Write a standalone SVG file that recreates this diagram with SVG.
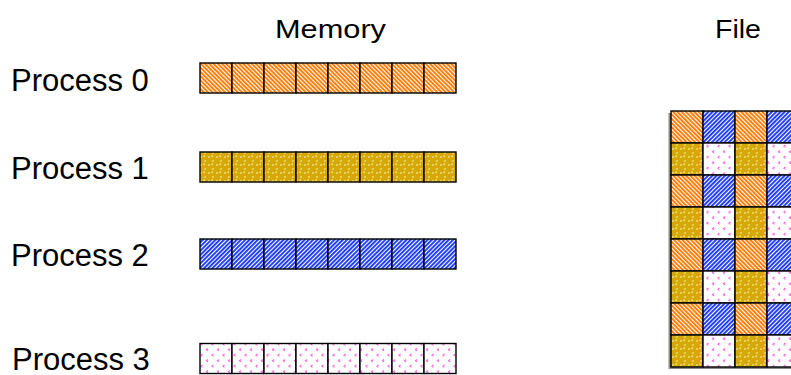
<svg xmlns="http://www.w3.org/2000/svg" width="791" height="375" viewBox="0 0 791 375">
<defs>
<pattern id="pOrange" patternUnits="userSpaceOnUse" width="3" height="3" patternTransform="rotate(-45)">
<rect width="3" height="3" fill="#ffffff"/>
<rect width="1.9" height="3" fill="#ff7a00"/>
</pattern>
<pattern id="pBlue" patternUnits="userSpaceOnUse" width="3" height="3" patternTransform="rotate(45)">
<rect width="3" height="3" fill="#ffffff"/>
<rect width="1.9" height="3" fill="#1a38ff"/>
</pattern>
<pattern id="pGold" patternUnits="userSpaceOnUse" width="8" height="8" x="1" y="1">
<rect width="8" height="8" fill="#ffffff"/>
<circle cx="4" cy="4" r="3.4" fill="#d6a800"/>
<circle cx="0" cy="0" r="3.4" fill="#d6a800"/>
<circle cx="8" cy="0" r="3.4" fill="#d6a800"/>
<circle cx="0" cy="8" r="3.4" fill="#d6a800"/>
<circle cx="8" cy="8" r="3.4" fill="#d6a800"/>
<circle cx="3.2" cy="3.2" r="1" fill="#f3dc80"/>
</pattern>
<pattern id="pPink" patternUnits="userSpaceOnUse" width="11" height="11" x="2" y="1">
<rect width="11" height="11" fill="#ffffff"/>
<path d="M2.5 1 L1 2.2 L2.5 3.4" fill="none" stroke="#ff5ee0" stroke-width="1.2"/>
<path d="M8 6.5 L6.5 7.7 L8 8.9" fill="none" stroke="#ff5ee0" stroke-width="1.2"/>
</pattern>
<style>
.lbl{font-family:"Liberation Sans",Arial,sans-serif;fill:#000}
.proc{font-size:31px}
.title{font-size:26px}
.c{stroke:#000;stroke-width:1.4}
.o{fill:url(#pOrange)}
.b{fill:url(#pBlue)}
.g{fill:url(#pGold)}
.p{fill:url(#pPink)}
</style>
</defs>
<rect width="791" height="375" fill="#ffffff"/>
<g id="titles">
<text class="lbl title" x="330.5" y="37.5" text-anchor="middle" textLength="111" lengthAdjust="spacingAndGlyphs">Memory</text>
<text class="lbl title" x="738" y="37.5" text-anchor="middle" textLength="46" lengthAdjust="spacingAndGlyphs">File</text>
</g>
<g id="process0">
<text class="lbl proc" x="11" y="91">Process 0</text>
<g class="c o">
<rect x="200" y="63" width="32" height="30"/><rect x="232" y="63" width="32" height="30"/><rect x="264" y="63" width="32" height="30"/><rect x="296" y="63" width="32" height="30"/><rect x="328" y="63" width="32" height="30"/><rect x="360" y="63" width="32" height="30"/><rect x="392" y="63" width="32" height="30"/><rect x="424" y="63" width="32" height="30"/>
</g>
</g>
<g id="process1">
<text class="lbl proc" x="11" y="179">Process 1</text>
<g class="c g">
<rect x="200" y="152" width="32" height="30"/><rect x="232" y="152" width="32" height="30"/><rect x="264" y="152" width="32" height="30"/><rect x="296" y="152" width="32" height="30"/><rect x="328" y="152" width="32" height="30"/><rect x="360" y="152" width="32" height="30"/><rect x="392" y="152" width="32" height="30"/><rect x="424" y="152" width="32" height="30"/>
</g>
</g>
<g id="process2">
<text class="lbl proc" x="11" y="266">Process 2</text>
<g class="c b">
<rect x="200" y="239" width="32" height="30"/><rect x="232" y="239" width="32" height="30"/><rect x="264" y="239" width="32" height="30"/><rect x="296" y="239" width="32" height="30"/><rect x="328" y="239" width="32" height="30"/><rect x="360" y="239" width="32" height="30"/><rect x="392" y="239" width="32" height="30"/><rect x="424" y="239" width="32" height="30"/>
</g>
</g>
<g id="process3">
<text class="lbl proc" x="12" y="370">Process 3</text>
<g class="c p">
<rect x="200" y="343.5" width="32" height="30"/><rect x="232" y="343.5" width="32" height="30"/><rect x="264" y="343.5" width="32" height="30"/><rect x="296" y="343.5" width="32" height="30"/><rect x="328" y="343.5" width="32" height="30"/><rect x="360" y="343.5" width="32" height="30"/><rect x="392" y="343.5" width="32" height="30"/><rect x="424" y="343.5" width="32" height="30"/>
</g>
</g>
<g id="file">
<rect x="668.5" y="113" width="130" height="256" fill="#8c8c8c"/>
<g class="c">
<rect class="o" x="671" y="111" width="32" height="32"/><rect class="b" x="703" y="111" width="32" height="32"/><rect class="o" x="735" y="111" width="32" height="32"/><rect class="b" x="767" y="111" width="32" height="32"/>
<rect class="g" x="671" y="143" width="32" height="32"/><rect class="p" x="703" y="143" width="32" height="32"/><rect class="g" x="735" y="143" width="32" height="32"/><rect class="p" x="767" y="143" width="32" height="32"/>
<rect class="o" x="671" y="175" width="32" height="32"/><rect class="b" x="703" y="175" width="32" height="32"/><rect class="o" x="735" y="175" width="32" height="32"/><rect class="b" x="767" y="175" width="32" height="32"/>
<rect class="g" x="671" y="207" width="32" height="32"/><rect class="p" x="703" y="207" width="32" height="32"/><rect class="g" x="735" y="207" width="32" height="32"/><rect class="p" x="767" y="207" width="32" height="32"/>
<rect class="o" x="671" y="239" width="32" height="32"/><rect class="b" x="703" y="239" width="32" height="32"/><rect class="o" x="735" y="239" width="32" height="32"/><rect class="b" x="767" y="239" width="32" height="32"/>
<rect class="g" x="671" y="271" width="32" height="32"/><rect class="p" x="703" y="271" width="32" height="32"/><rect class="g" x="735" y="271" width="32" height="32"/><rect class="p" x="767" y="271" width="32" height="32"/>
<rect class="o" x="671" y="303" width="32" height="32"/><rect class="b" x="703" y="303" width="32" height="32"/><rect class="o" x="735" y="303" width="32" height="32"/><rect class="b" x="767" y="303" width="32" height="32"/>
<rect class="g" x="671" y="335" width="32" height="32"/><rect class="p" x="703" y="335" width="32" height="32"/><rect class="g" x="735" y="335" width="32" height="32"/><rect class="p" x="767" y="335" width="32" height="32"/>
</g>
</g>
<g id="connectors"/>
</svg>
